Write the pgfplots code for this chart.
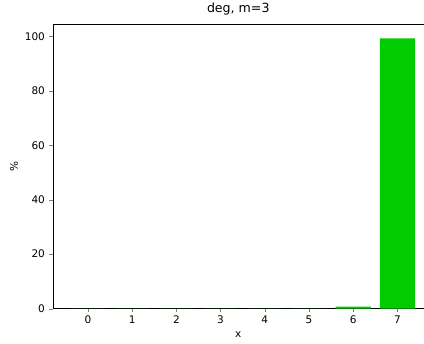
\documentclass[border=0pt]{standalone}
\usepackage{fontspec}
\setmainfont{DejaVu Sans}
\usepackage{pgfplots}
\pgfplotsset{compat=1.18}
\definecolor{bargreen}{RGB}{0,204,0}
\begin{document}
\begin{tikzpicture}
\begin{axis}[
  scale only axis,
  width=371pt, height=284pt,
  xmin=-0.79, xmax=7.59,
  ymin=0, ymax=104.2,
  axis x line*=box,
  axis y line*=left,
  xtick pos=left, ytick pos=left,
  tick align=outside,
  major tick length=3.5pt,
  xtick={0,1,2,3,4,5,6,7},
  ytick={0,20,40,60,80,100},
  /pgf/number format/assume math mode=true,
  ticklabel style={font=\fontsize{10.5}{12.6}\selectfont},
  yticklabel style={xshift=-1pt},
  xlabel={x}, ylabel={\%},
  label style={font=\fontsize{10.5}{12.6}\selectfont},
  xlabel style={at={(axis description cs:0.5,-0.0915)}, anchor=center},
  ylabel style={at={(axis description cs:-0.105,0.5)}, anchor=center},
  title={deg, m=3},
  title style={font=\fontsize{12.6}{15}\selectfont, at={(axis description cs:0.5,1)}, anchor=base, yshift=6pt},
  axis line style={line width=0.8pt},
  ybar, bar width=0.8, bar shift=0pt,
]
\addplot[fill=bargreen, draw=none] coordinates {
  (0,0) (1,0) (2,0) (3,0) (4,0) (5,0) (6,0.75) (7,99.25)
};
\end{axis}
\path (current axis.south west) ++(-53pt,-35pt);
\path (current axis.north east) ++(0pt,22pt);
\end{tikzpicture}
\end{document}
